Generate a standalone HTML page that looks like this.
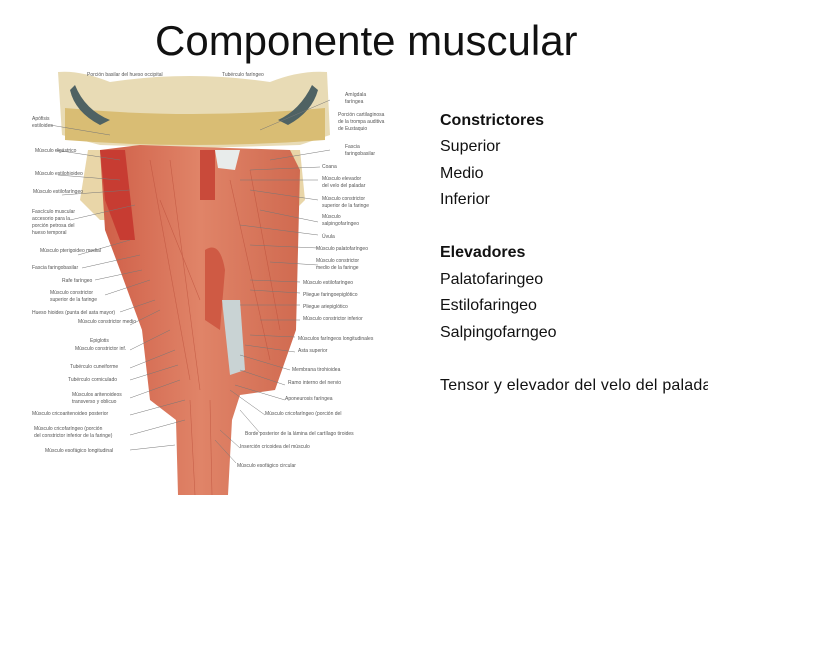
<!DOCTYPE html>
<html><head><meta charset="utf-8"><style>
body{margin:0;background:#fff;}
.wrap{position:relative;width:839px;height:652px;overflow:hidden;font-family:"Liberation Sans",sans-serif;}
.title{position:absolute;left:155px;top:17px;font-size:42px;color:#111;white-space:nowrap;letter-spacing:0px}
.r{position:absolute;left:440px;font-size:16px;color:#111;white-space:nowrap}
.b{font-weight:bold}
svg text{font-family:"Liberation Sans",sans-serif;font-size:5px;fill:#555}
</style></head><body><div class="wrap">
<div class="title">Componente muscular</div>
<svg style="position:absolute;left:0;top:0" width="839" height="652">
<defs>
<linearGradient id="m" x1="0" x2="1"><stop offset="0" stop-color="#cf5f48"/><stop offset="0.5" stop-color="#e08468"/><stop offset="1" stop-color="#d06a50"/></linearGradient>
</defs>
<path d="M88,150 L80,200 L100,220 L140,220 L150,200 L145,150Z" fill="#e9d6a8"/>
<path d="M265,150 L300,150 L305,200 L290,215 L265,210Z" fill="#e9d6a8"/>
<path d="M58,72 Q80,70 110,82 Q190,70 270,82 Q300,70 327,72 L330,135 L300,145 L200,148 L100,145 L62,135Z" fill="#e8dbb5"/>
<path d="M65,108 Q190,120 325,108 L325,140 Q190,150 65,140Z" fill="#d9bd74"/>
<path d="M75,85 Q85,110 110,120 L100,125 Q75,112 70,90Z" fill="#4f6263"/>
<path d="M312,85 Q300,110 278,120 L288,125 Q312,112 318,90Z" fill="#4f6263"/>
<path d="M100,150 L140,145 L290,150 L300,170 L296,330 L275,390 L240,395 L232,420 L228,495 L178,495 L176,420 L150,400 L142,330 L120,270 L105,230 Z" fill="url(#m)"/>
<g stroke="#b84a36" stroke-width="0.6" opacity="0.6">
<line x1="150" y1="160" x2="190" y2="380"/><line x1="170" y1="160" x2="200" y2="390"/><line x1="250" y1="170" x2="280" y2="330"/><line x1="230" y1="180" x2="270" y2="360"/><line x1="190" y1="400" x2="195" y2="495"/><line x1="210" y1="400" x2="212" y2="495"/><line x1="160" y1="200" x2="200" y2="300"/>
</g>
<path d="M100,150 L125,150 L135,240 L120,240 L105,200Z" fill="#c73c32"/>
<path d="M200,150 L215,150 L215,200 L200,200Z" fill="#c94a3a"/>
<path d="M205,250 Q220,240 225,270 L220,330 L205,320Z" fill="#cf5a44"/>
<path d="M222,300 L240,300 L245,370 L230,375Z" fill="#c9d3d4"/>
<path d="M215,150 L240,150 L235,170 L218,168Z" fill="#e8eceb"/>
<g stroke="#777" stroke-width="0.5">
<line x1="50" y1="125" x2="110" y2="135"/><line x1="55" y1="150" x2="120" y2="160"/><line x1="58" y1="175" x2="120" y2="180"/><line x1="62" y1="195" x2="130" y2="190"/><line x1="70" y1="220" x2="135" y2="205"/><line x1="78" y1="255" x2="130" y2="240"/><line x1="82" y1="268" x2="140" y2="255"/><line x1="95" y1="280" x2="142" y2="270"/><line x1="105" y1="295" x2="150" y2="280"/><line x1="120" y1="312" x2="155" y2="300"/><line x1="130" y1="325" x2="160" y2="310"/><line x1="130" y1="350" x2="170" y2="330"/><line x1="130" y1="368" x2="175" y2="350"/><line x1="130" y1="380" x2="178" y2="365"/><line x1="130" y1="398" x2="180" y2="380"/><line x1="130" y1="415" x2="185" y2="400"/><line x1="130" y1="435" x2="185" y2="420"/><line x1="130" y1="450" x2="175" y2="445"/>
<line x1="330" y1="100" x2="260" y2="130"/><line x1="330" y1="150" x2="270" y2="160"/><line x1="320" y1="167" x2="250" y2="170"/><line x1="318" y1="180" x2="240" y2="180"/><line x1="318" y1="200" x2="250" y2="190"/><line x1="318" y1="222" x2="260" y2="210"/><line x1="318" y1="235" x2="240" y2="225"/><line x1="318" y1="248" x2="250" y2="245"/><line x1="318" y1="265" x2="270" y2="262"/><line x1="300" y1="282" x2="250" y2="280"/><line x1="300" y1="293" x2="250" y2="290"/><line x1="300" y1="305" x2="240" y2="305"/><line x1="300" y1="320" x2="260" y2="320"/><line x1="295" y1="337" x2="250" y2="335"/><line x1="295" y1="352" x2="245" y2="345"/><line x1="290" y1="370" x2="240" y2="355"/><line x1="285" y1="385" x2="240" y2="370"/><line x1="285" y1="400" x2="235" y2="385"/><line x1="265" y1="415" x2="230" y2="390"/><line x1="260" y1="433" x2="240" y2="410"/><line x1="240" y1="448" x2="220" y2="430"/><line x1="236" y1="463" x2="215" y2="440"/>
</g>
<text x="87" y="76">Porción basilar del hueso occipital</text><text x="222" y="76">Tubérculo faríngeo</text>
<text x="32" y="120">Apófisis</text><text x="32" y="127">estiloides</text>
<text x="35" y="152">Músculo digástrico</text><text x="35" y="175">Músculo estilohioideo</text><text x="33" y="193">Músculo estilofaríngeo</text>
<text x="32" y="213">Fascículo muscular</text><text x="32" y="220">accesorio para la</text><text x="32" y="227">porción petrosa del</text><text x="32" y="234">hueso temporal</text>
<text x="40" y="252">Músculo pterigoideo medial</text><text x="32" y="269">Fascia faringobasilar</text><text x="62" y="282">Rafe faríngeo</text>
<text x="50" y="294">Músculo constrictor</text><text x="50" y="301">superior de la faringe</text><text x="32" y="314">Hueso hioides (punta del asta mayor)</text>
<text x="78" y="323">Músculo constrictor medio</text><text x="90" y="342">Epiglotis</text><text x="75" y="350">Músculo constrictor inf.</text>
<text x="70" y="368">Tubérculo cuneiforme</text><text x="68" y="381">Tubérculo corniculado</text><text x="72" y="396">Músculos aritenoideos</text><text x="72" y="403">transverso y oblicuo</text>
<text x="32" y="415">Músculo cricoaritenoideo posterior</text><text x="34" y="430">Músculo cricofaríngeo (porción</text><text x="34" y="437">del constrictor inferior de la faringe)</text><text x="45" y="452">Músculo esofágico longitudinal</text>
<text x="345" y="96">Amígdala</text><text x="345" y="103">faríngea</text><text x="338" y="116">Porción cartilaginosa</text><text x="338" y="123">de la trompa auditiva</text><text x="338" y="130">de Eustaquio</text>
<text x="345" y="148">Fascia</text><text x="345" y="155">faringobasilar</text><text x="322" y="168">Coana</text><text x="322" y="180">Músculo elevador</text><text x="322" y="187">del velo del paladar</text>
<text x="322" y="200">Músculo constrictor</text><text x="322" y="207">superior de la faringe</text><text x="322" y="218">Músculo</text><text x="322" y="225">salpingofaríngeo</text>
<text x="322" y="238">Úvula</text><text x="316" y="250">Músculo palatofaríngeo</text><text x="316" y="262">Músculo constrictor</text><text x="316" y="269">medio de la faringe</text>
<text x="303" y="284">Músculo estilofaríngeo</text><text x="303" y="296">Pliegue faringoepiglótico</text><text x="303" y="308">Pliegue ariepiglótico</text>
<text x="303" y="320">Músculo constrictor inferior</text><text x="298" y="340">Músculos faríngeos longitudinales</text><text x="298" y="352">Asta superior</text>
<text x="292" y="371">Membrana tirohioidea</text><text x="288" y="384">Ramo interno del nervio</text><text x="285" y="400">Aponeurosis faríngea</text>
<text x="265" y="415">Músculo cricofaríngeo (porción del</text><text x="245" y="435">Borde posterior de la lámina del cartílago tiroides</text>
<text x="240" y="448">Inserción cricoidea del músculo</text><text x="237" y="467">Músculo esofágico circular</text>
</svg>
<div class="r b" style="top:112px">Constrictores</div>
<div class="r" style="top:138px">Superior</div>
<div class="r" style="top:165px">Medio</div>
<div class="r" style="top:191px">Inferior</div>
<div class="r b" style="top:244px">Elevadores</div>
<div class="r" style="top:271px">Palatofaringeo</div>
<div class="r" style="top:297px">Estilofaringeo</div>
<div class="r" style="top:324px">Salpingofarngeo</div>
<div class="r" style="top:377px;width:268px;overflow:hidden;letter-spacing:0.2px">Tensor y elevador del velo del paladar</div>
</div></body></html>
